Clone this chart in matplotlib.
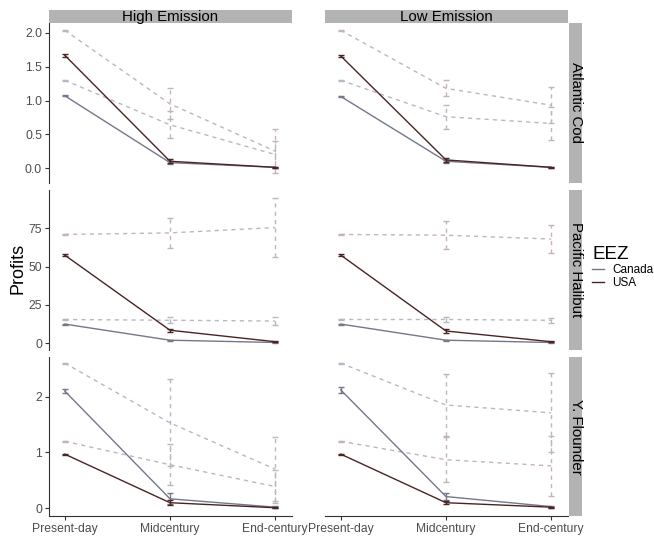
import matplotlib
matplotlib.use("Agg")
import matplotlib.pyplot as plt
from matplotlib.lines import Line2D
import numpy as np

plt.rcParams['font.family'] = ['Liberation Sans', 'DejaVu Sans']

periods = ["Present-day", "Midcentury", "End-century"]
species = ["Atlantic Cod", "Pacific Halibut", "Y. Flounder"]
scenarios = ["High Emission", "Low Emission"]

# rows: USA solid, Canada solid, USA dashed, Canada dashed
cod_high_mean = [[1.67, 0.10, 0.01], [1.07, 0.08, 0.01], [2.04, 0.95, 0.25], [1.30, 0.64, 0.20]]
cod_high_err = [[0.02, 0.03, 0.01], [0.01, 0.02, 0.01], [0.01, 0.23, 0.33], [0.01, 0.20, 0.20]]
cod_low_mean = [[1.66, 0.12, 0.01], [1.06, 0.10, 0.01], [2.04, 1.18, 0.93], [1.30, 0.76, 0.66]]
cod_low_err = [[0.02, 0.03, 0.01], [0.01, 0.02, 0.01], [0.01, 0.12, 0.27], [0.01, 0.18, 0.25]]

halibut_high_mean = [[57.5, 8.5, 1.0], [12.5, 2.0, 0.5], [71.0, 72.0, 75.5], [15.5, 15.0, 14.5]]
halibut_high_err = [[0.5, 1.0, 0.5], [0.3, 0.3, 0.2], [0.5, 10.0, 19.5], [0.3, 2.0, 2.5]]
halibut_low_mean = [[57.5, 8.0, 1.0], [12.5, 2.0, 0.5], [71.0, 70.5, 68.0], [15.5, 15.5, 15.0]]
halibut_low_err = [[0.5, 1.0, 0.5], [0.3, 0.3, 0.2], [0.5, 9.0, 9.0], [0.3, 1.5, 1.5]]

flounder_high_mean = [[0.97, 0.10, 0.01], [2.10, 0.17, 0.02], [1.20, 0.78, 0.39], [2.60, 1.53, 0.70]]
flounder_high_err = [[0.01, 0.04, 0.01], [0.03, 0.10, 0.02], [0.01, 0.37, 0.30], [0.01, 0.78, 0.57]]
flounder_low_mean = [[0.97, 0.10, 0.02], [2.12, 0.21, 0.03], [1.20, 0.87, 0.76], [2.60, 1.85, 1.71]]
flounder_low_err = [[0.01, 0.03, 0.01], [0.05, 0.07, 0.02], [0.01, 0.40, 0.54], [0.01, 0.56, 0.71]]

panels = {
    ("Atlantic Cod", "High Emission"): (cod_high_mean, cod_high_err),
    ("Atlantic Cod", "Low Emission"): (cod_low_mean, cod_low_err),
    ("Pacific Halibut", "High Emission"): (halibut_high_mean, halibut_high_err),
    ("Pacific Halibut", "Low Emission"): (halibut_low_mean, halibut_low_err),
    ("Y. Flounder", "High Emission"): (flounder_high_mean, flounder_high_err),
    ("Y. Flounder", "Low Emission"): (flounder_low_mean, flounder_low_err),
}

row_ylim = [(-0.222, 2.148), (-4.4, 100), (-0.138, 2.71)]
row_ticks = [[0, 0.5, 1.0, 1.5, 2.0], [0, 25, 50, 75], [0, 1, 2]]
row_ticklabels = [["0.0", "0.5", "1.0", "1.5", "2.0"], ["0", "25", "50", "75"], ["0", "1", "2"]]

usa_col = "#4a2424"
can_col = "#76768c"
usa_dash_col = "#c6b4b4"
can_dash_col = "#b8b8c4"
series_style = [(usa_col, '-'), (can_col, '-'), (usa_dash_col, '--'), (can_dash_col, '--')]

W, H = 654, 556
fig = plt.figure(figsize=(W / 100, H / 100), dpi=100)


def rect(x0, y0, x1, y1):
    return [x0 / W, 1 - y1 / H, (x1 - x0) / W, (y1 - y0) / H]


col_x = [(49, 292), (325, 568)]
row_y = [(23, 183), (190, 350), (357, 516)]
x = np.arange(1, 4)
strip_col = "#b3b3b3"

for r, sp in enumerate(species):
    for c, sc in enumerate(scenarios):
        ax = fig.add_axes(rect(col_x[c][0], row_y[r][0], col_x[c][1], row_y[r][1]))
        mean, err = panels[(sp, sc)]
        for i in [2, 3, 1, 0]:
            color, ls = series_style[i]
            if ls == '--':
                ax.plot(x, mean[i], color=color, lw=1.0, dashes=(3, 3))
            else:
                ax.plot(x, mean[i], color=color, lw=1.0)
            eb = ax.errorbar(x, mean[i], yerr=err[i], fmt='none', ecolor=color,
                             elinewidth=1.0, capsize=2.5, capthick=1.0)
            if ls == '--':
                eb[2][0].set_linestyle((0, (3, 3)))
        ax.set_xlim(0.85, 3.16)
        ax.set_ylim(*row_ylim[r])
        ax.set_yticks(row_ticks[r])
        ax.set_xticks(x)
        for s in ['top', 'right']:
            ax.spines[s].set_visible(False)
        ax.spines['left'].set_color('#333333')
        ax.spines['bottom'].set_color('#333333')
        ax.tick_params(colors='#333333', labelcolor='#4d4d4d', length=3, width=0.8,
                       labelsize=8.7, pad=2)
        if c == 0:
            ax.set_yticklabels(row_ticklabels[r])
        else:
            ax.spines['left'].set_visible(False)
            ax.tick_params(axis='y', left=False, labelleft=False)
        if r == 2:
            ax.set_xticklabels(periods)
        else:
            ax.spines['bottom'].set_visible(False)
            ax.tick_params(axis='x', bottom=False, labelbottom=False)

        if r == 0:
            sax = fig.add_axes(rect(col_x[c][0], 10, col_x[c][1], 23))
            sax.set_facecolor(strip_col)
            sax.set_xticks([])
            sax.set_yticks([])
            for s in sax.spines.values():
                s.set_visible(False)
            sax.text(0.5, 0.45, sc, ha='center', va='center', fontsize=10.8,
                     transform=sax.transAxes)
    rax = fig.add_axes(rect(569, row_y[r][0], 582, row_y[r][1]))
    rax.set_facecolor(strip_col)
    rax.set_xticks([])
    rax.set_yticks([])
    for s in rax.spines.values():
        s.set_visible(False)
    rax.text(0.5, 0.5, sp, ha='center', va='center', fontsize=10.8, rotation=-90,
             transform=rax.transAxes)

fig.text(18 / W, 1 - 268 / H, "Profits", rotation=90, ha='center', va='center', fontsize=13)

handles = [Line2D([], [], color=can_col, lw=1.0), Line2D([], [], color=usa_col, lw=1.0)]
fig.legend(handles, ["Canada", "USA"], title="EEZ", loc='upper left',
           bbox_to_anchor=(592 / W, 1 - 246 / H), frameon=False, fontsize=8.5,
           title_fontsize=13.5, handlelength=1.0, handletextpad=0.7, labelspacing=0.1,
           borderaxespad=0, borderpad=0, alignment='left')

fig.savefig("out.png", dpi=100)
